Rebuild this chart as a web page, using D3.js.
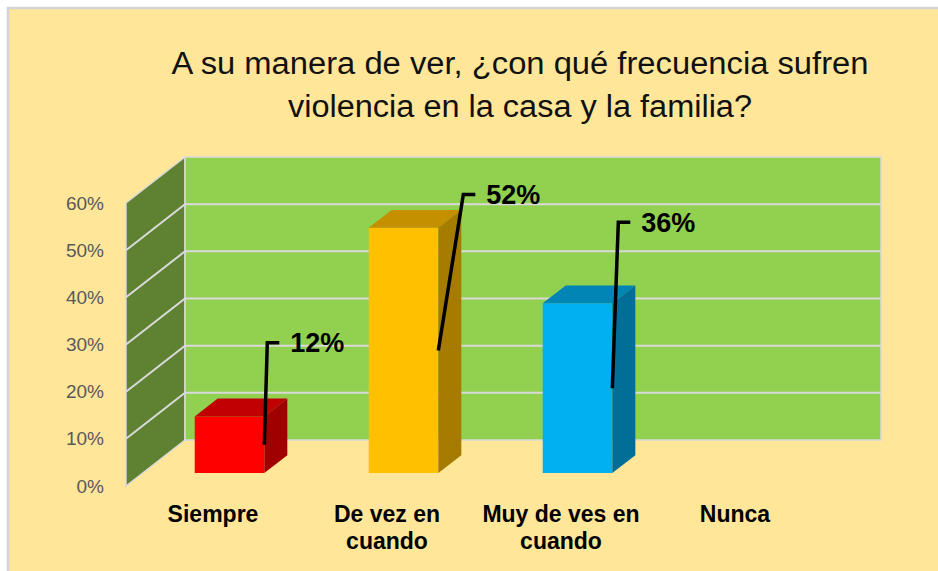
<!DOCTYPE html>
<html>
<head>
<meta charset="utf-8">
<script src="https://cdn.jsdelivr.net/npm/d3@7"></script>
<style>
  body { margin: 0; background: #ffffff; }
  svg { display: block; }
  .title { font-family: "Liberation Sans", Arial, sans-serif; font-size: 31px; fill: #111; }
  .tick-y { font-family: "Liberation Sans", Arial, sans-serif; font-size: 19px; fill: #595959; }
  .cat { font-family: "Liberation Sans", Arial, sans-serif; font-size: 23px; font-weight: bold; fill: #000; }
  .val { font-family: "Liberation Sans", Arial, sans-serif; font-size: 27px; font-weight: bold; fill: #000; }
</style>
</head>
<body>
<div class="contenedor_grafico"></div>
<script>
// data
const categories = ["Siempre", "De vez en cuando", "Muy de ves en cuando", "Nunca"];
const categoryLines = [["Siempre"], ["De vez en", "cuando"], ["Muy de ves en", "cuando"], ["Nunca"]];
const values = [0.12, 0.52, 0.36, null];
const tickValues = [0, 0.1, 0.2, 0.3, 0.4, 0.5, 0.6];
const titleLines = ["A su manera de ver, ¿con qué frecuencia sufren", "violencia en la casa y la familia?"];

// colours: front, top, side
const frontColors = ["#FF0000", "#FFC000", "#00B0F0", "#92D050"];
const topColors = ["#C00000", "#C49000", "#0085B5", "#6E9E3A"];
const sideColors = ["#A00000", "#A67C00", "#006E96", "#5F8232"];

// leader line offsets (px) from the middle of each bar's front right edge
const labelOffsets = [[3, -102], [25, -156], [6, -166], [0, 0]];
// title line widths in the original
const titleWidths = [697, 464];

const width = 938;
const height = 571;

// 3d layout: front plane + depth vector
const depthX = 59;
const depthY = -46;
const barZ0 = 0.28;
const barZ1 = 0.67;

const svg = d3.select(".contenedor_grafico")
  .append("svg")
  .attr("width", width)
  .attr("height", height);

svg.append("rect")
  .attr("x", 8)
  .attr("y", 8)
  .attr("width", width)
  .attr("height", height)
  .attr("fill", "#FFE699")
  .attr("stroke", "#D4D4D4")
  .attr("stroke-width", 2.5);

const xScale = d3.scaleBand()
  .domain(categories)
  .range([126, 822])
  .paddingInner(0.6)
  .paddingOuter(0.3);

const xWall = d3.scaleBand()
  .domain(categories)
  .range([126, 822]);

const yScale = d3.scaleLinear()
  .domain([0, 0.6])
  .range([486, 203]);

const proj = (x, v, z) => [x + z * depthX, yScale(v) + z * depthY];
const poly = (pts) => pts.map((p) => p.join(",")).join(" ");

// title
svg.append("g")
  .selectAll("text")
  .data(titleLines)
  .enter()
  .append("text")
  .attr("class", "title")
  .attr("x", 520)
  .attr("y", (d, i) => 74 + i * 43)
  .attr("text-anchor", "middle")
  .attr("textLength", (d, i) => titleWidths[i])
  .attr("lengthAdjust", "spacingAndGlyphs")
  .text((d) => d);

// walls
const [x0w, x1w] = xWall.range();
const vMax = d3.max(tickValues);

svg.append("polygon")
  .attr("points", poly([proj(x0w, 0, 0), proj(x0w, 0, 1), proj(x0w, vMax, 1), proj(x0w, vMax, 0)]))
  .attr("fill", "#5F8232")
  .attr("stroke", "#D9D9D9")
  .attr("stroke-width", 1.5);

svg.append("polygon")
  .attr("points", poly([proj(x0w, 0, 1), proj(x1w, 0, 1), proj(x1w, vMax, 1), proj(x0w, vMax, 1)]))
  .attr("fill", "#92D050")
  .attr("stroke", "#D9D9D9")
  .attr("stroke-width", 1.5);

// gridlines on side and back wall
const grid = svg.append("g").attr("class", "grid");
tickValues.filter((t) => t > 0 && t < vMax).forEach((t) => {
  grid.append("polyline")
    .attr("points", poly([proj(x0w, t, 0), proj(x0w, t, 1), proj(x1w, t, 1)]))
    .attr("fill", "none")
    .attr("stroke", "#D9D9D9")
    .attr("stroke-width", 2);
});

// y axis labels
svg.append("g")
  .selectAll("text")
  .data(tickValues)
  .enter()
  .append("text")
  .attr("class", "tick-y")
  .attr("x", 104)
  .attr("y", (d) => yScale(d))
  .attr("dy", "0.35em")
  .attr("text-anchor", "end")
  .text((d) => d3.format(".0%")(d));

// bars
const barData = categories
  .map((c, i) => ({ cat: c, value: values[i], i: i }))
  .filter((d) => d.value != null && d.value > 0);

const bars = svg.append("g")
  .selectAll("g")
  .data(barData)
  .enter()
  .append("g")
  .attr("class", "bar");

bars.each(function (d) {
  const g = d3.select(this);
  const x0 = xScale(d.cat);
  const x1 = x0 + xScale.bandwidth();
  g.append("polygon")
    .attr("points", poly([proj(x0, 0, barZ0), proj(x1, 0, barZ0), proj(x1, d.value, barZ0), proj(x0, d.value, barZ0)]))
    .attr("fill", frontColors[d.i]);
  g.append("polygon")
    .attr("points", poly([proj(x0, d.value, barZ0), proj(x1, d.value, barZ0), proj(x1, d.value, barZ1), proj(x0, d.value, barZ1)]))
    .attr("fill", topColors[d.i]);
  g.append("polygon")
    .attr("points", poly([proj(x1, 0, barZ0), proj(x1, 0, barZ1), proj(x1, d.value, barZ1), proj(x1, d.value, barZ0)]))
    .attr("fill", sideColors[d.i]);
});

// leader lines + labels
bars.each(function (d) {
  const g = d3.select(this);
  const x1 = xScale(d.cat) + xScale.bandwidth();
  const [ax, ay] = proj(x1, d.value / 2, barZ0);
  const [ox, oy] = labelOffsets[d.i];
  const tx = ax + ox;
  const ty = ay + oy;
  g.append("polyline")
    .attr("points", poly([[ax, ay], [tx, ty], [tx + 12, ty]]))
    .attr("fill", "none")
    .attr("stroke", "#000")
    .attr("stroke-width", 3.5);
  g.append("text")
    .attr("class", "val")
    .attr("x", tx + 23)
    .attr("y", ty)
    .attr("dy", "0.35em")
    .text(d3.format(".0%")(d.value));
});

// category labels
const cats = svg.append("g")
  .selectAll("text")
  .data(categories)
  .enter()
  .append("text")
  .attr("class", "cat")
  .attr("text-anchor", "middle")
  .attr("x", (d) => xWall(d) + xWall.bandwidth() / 2)
  .attr("y", 522);

cats.selectAll("tspan")
  .data((d, i) => categoryLines[i])
  .enter()
  .append("tspan")
  .attr("x", function () { return d3.select(this.parentNode).attr("x"); })
  .attr("dy", (d, i) => (i === 0 ? 0 : 27))
  .text((d) => d);
</script>
</body>
</html>
